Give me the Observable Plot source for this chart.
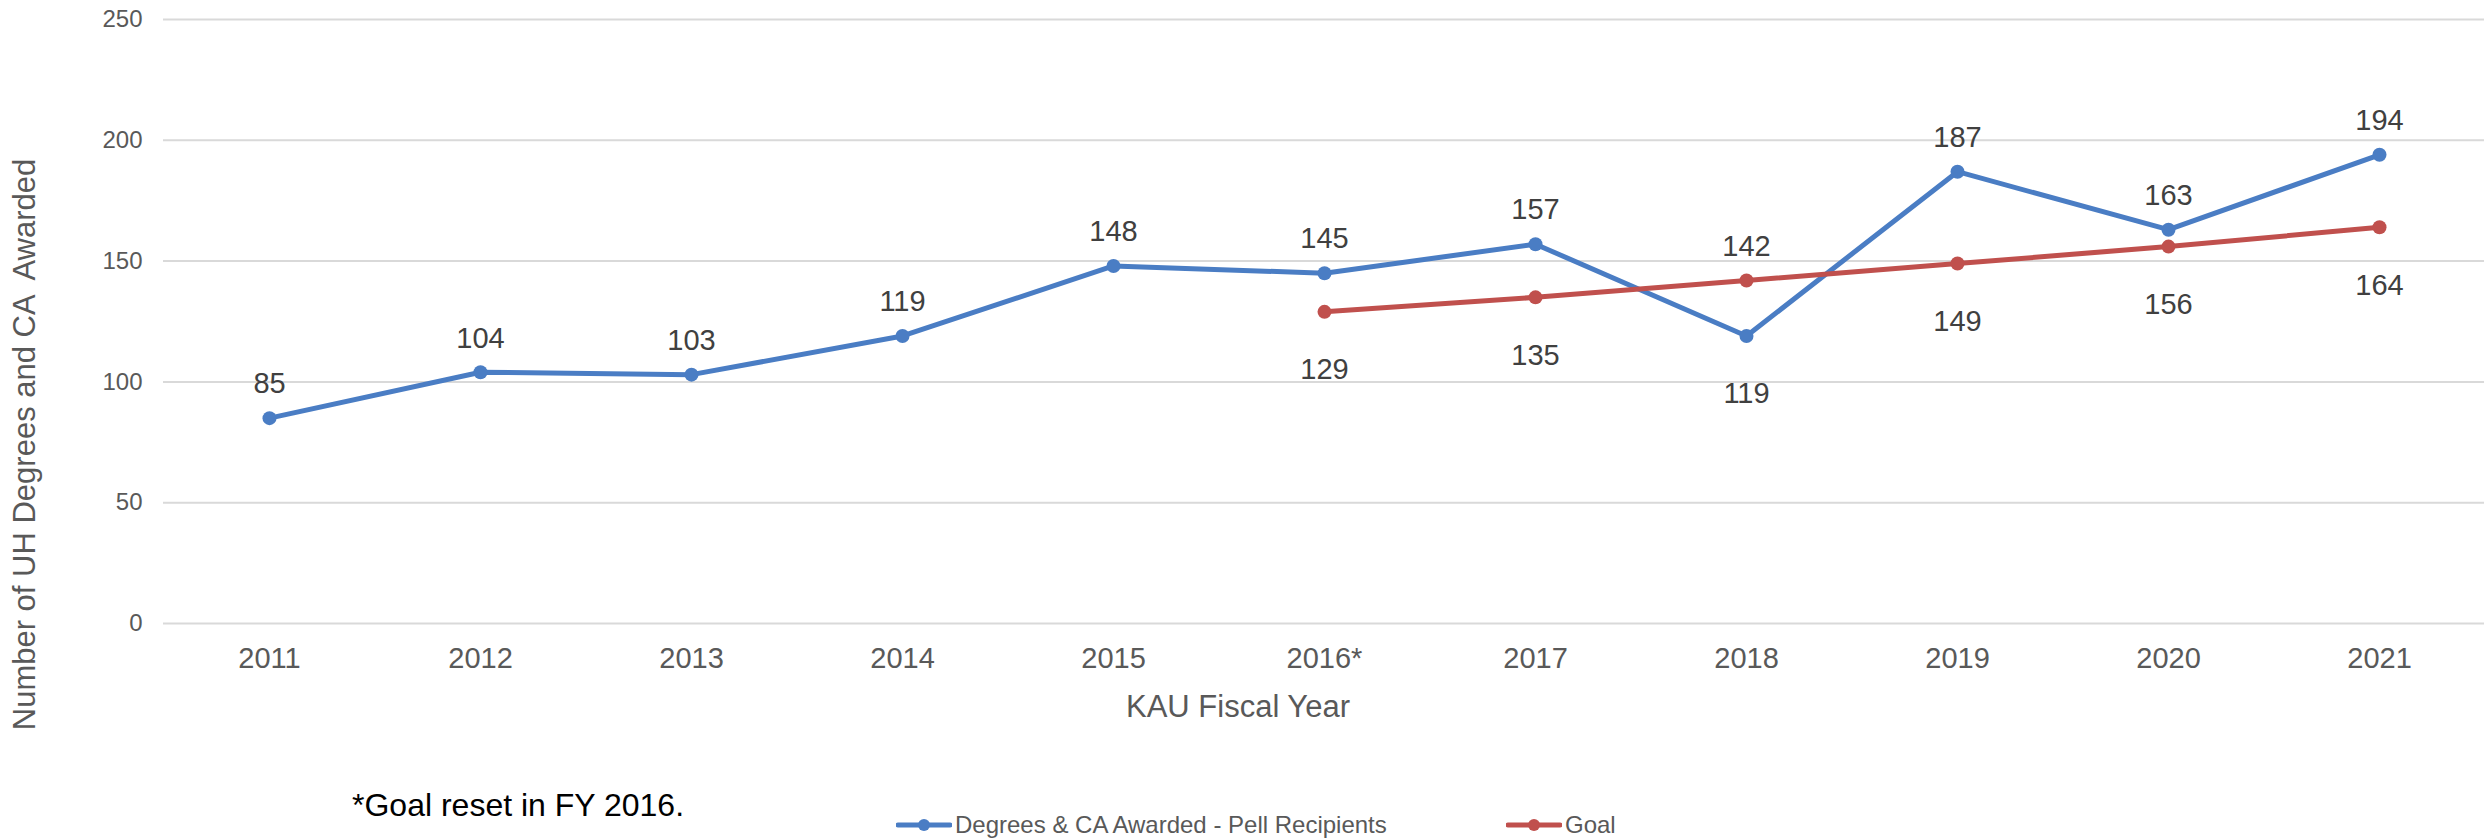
<!DOCTYPE html>
<html>
<head>
<meta charset="utf-8">
<script src="https://cdn.jsdelivr.net/npm/d3@7"></script>
<script src="https://cdn.jsdelivr.net/npm/@observablehq/plot@0.6"></script>
<style>
  body { margin: 0; background: #fff; font-family: "Liberation Sans", Arial, sans-serif; }
  #wrap { position: relative; width: 2484px; height: 839px; overflow: hidden; }
  #foot { position: relative; width: 2484px; height: 69px; }
  #caption { position: absolute; left: 352px; top: 17px; font-size: 32px; color: #000; line-height: 36px; white-space: nowrap; }
  .leg { position: absolute; top: 41px; display: flex; align-items: center; font-size: 24px; color: #595959; line-height: 28px; white-space: nowrap; }
  .leg svg { display: block; margin-right: 3px; }
</style>
</head>
<body>
<div id="wrap">
  <div id="chart"></div>
  <div id="foot">
    <div id="caption"></div>
    <div class="leg" id="leg0" style="left:896px"></div>
    <div class="leg" id="leg1" style="left:1506px"></div>
  </div>
</div>
<script>
// ---- data ----
const years = ["2011", "2012", "2013", "2014", "2015", "2016*", "2017", "2018", "2019", "2020", "2021"];
const pellValues = [85, 104, 103, 119, 148, 145, 157, 119, 187, 163, 194];
const goalYears = ["2016*", "2017", "2018", "2019", "2020", "2021"];
const goalValues = [129, 135, 142, 149, 156, 164];
const yTicks = [0, 50, 100, 150, 200, 250];
const seriesNames = ["Degrees & CA Awarded - Pell Recipients", "Goal"];
const pellLabelsBelow = ["2018"];
const goalLabelsAbove = ["2018"];
const xTitle = "KAU Fiscal Year";
const yTitle = "Number of UH Degrees and CA  Awarded";
const captionText = "*Goal reset in FY 2016.";

// ---- styles ----
const blue = "#4a7dc4";
const red = "#c0504d";
const axisGray = "#595959";
const labelGray = "#404040";
const ABOVE = -34, BELOW = 58;

const pell = years.map((y, i) => ({year: y, value: pellValues[i], dy: pellLabelsBelow.includes(y) ? BELOW : ABOVE}));
const goal = goalYears.map((y, i) => ({year: y, value: goalValues[i], dy: goalLabelsAbove.includes(y) ? ABOVE : BELOW}));

const W = 2484, H = 770;
const chart = Plot.plot({
  width: W,
  height: H,
  marginLeft: 163,
  marginRight: 0,
  marginTop: 19,
  marginBottom: H - 623,
  style: {fontFamily: '"Liberation Sans", Arial, sans-serif', background: "white", overflow: "visible"},
  x: {type: "point", domain: years, padding: 0.5, label: null},
  y: {domain: [0, 250], label: null},
  marks: [
    Plot.gridY(yTicks, {stroke: "#d9d9d9", strokeOpacity: 1, strokeWidth: 2}),
    Plot.axisY(yTicks, {tickSize: 0, tickPadding: 21, fontSize: 24, fill: axisGray, label: null}),
    Plot.axisX({tickSize: 0, tickPadding: 24, fontSize: 29, fill: axisGray, label: null}),
    Plot.line(pell, {x: "year", y: "value", stroke: blue, strokeWidth: 5}),
    Plot.line(goal, {x: "year", y: "value", stroke: red, strokeWidth: 5}),
    Plot.dot(pell, {x: "year", y: "value", r: 7, fill: blue}),
    Plot.dot(goal, {x: "year", y: "value", r: 7, fill: red}),
    ...pell.map(d => Plot.text([d], {x: "year", y: "value", text: dd => String(dd.value), dy: d.dy, fontSize: 29, fill: labelGray})),
    ...goal.map(d => Plot.text([d], {x: "year", y: "value", text: dd => String(dd.value), dy: d.dy, fontSize: 29, fill: labelGray})),
    Plot.text([xTitle], {frameAnchor: "bottom", textAnchor: "middle", dx: -86, dy: 93, fontSize: 31, fill: axisGray}),
    Plot.text([yTitle], {frameAnchor: "left", textAnchor: "middle", rotate: -90, dx: -138, dy: 123, fontSize: 31, fill: axisGray})
  ]
});
document.getElementById("chart").appendChild(chart);

document.getElementById("caption").textContent = captionText;
const colors = [blue, red];
seriesNames.forEach((name, i) => {
  const el = document.getElementById("leg" + i);
  const sw = 56;
  const svg = d3.create("svg").attr("width", sw).attr("height", 14);
  svg.append("line").attr("x1", 2).attr("x2", sw - 2).attr("y1", 7).attr("y2", 7)
    .attr("stroke", colors[i]).attr("stroke-width", 5).attr("stroke-linecap", "round");
  svg.append("circle").attr("cx", sw / 2).attr("cy", 7).attr("r", 6).attr("fill", colors[i]);
  el.appendChild(svg.node());
  const span = document.createElement("span");
  span.textContent = name;
  el.appendChild(span);
});
</script>
</body>
</html>
